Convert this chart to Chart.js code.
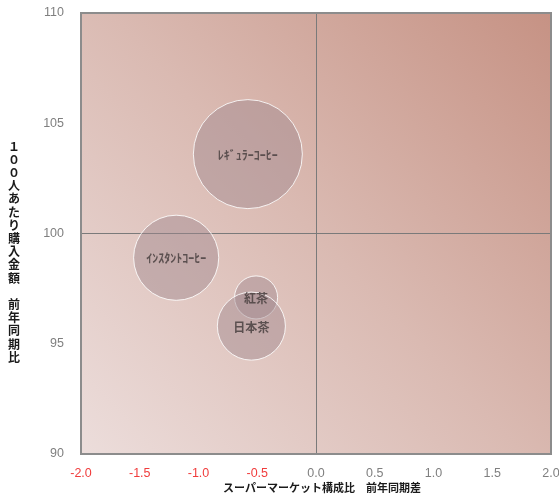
<!DOCTYPE html>
<html>
<head>
<meta charset="utf-8">
<script src="https://cdn.jsdelivr.net/npm/chart.js@4/dist/chart.umd.min.js"></script>
<style>
  html, body { margin: 0; padding: 0; background: #ffffff; }
  #wrap { width: 559px; height: 497px; position: relative; }
</style>
</head>
<body>
<div id="wrap"><canvas id="c" width="559" height="497"></canvas></div>
<script>
// Category names shown inside each bubble
const categories = ['ﾚｷﾞｭﾗｰｺｰﾋｰ', 'ｲﾝｽﾀﾝﾄｺｰﾋｰ', '紅茶', '日本茶'];
// Supermarket share, year-on-year difference (points)
const shareDiff = [-0.58, -1.19, -0.51, -0.55];
// Spend per 100 people, year-on-year ratio (%)
const spendIndex = [103.6, 98.9, 97.1, 95.8];
// Relative market size (bubble area)
const marketSize = [100, 61, 15.6, 39];

// Axis ticks
const xTicks = [-2.0, -1.5, -1.0, -0.5, 0.0, 0.5, 1.0, 1.5, 2.0];
const yTicks = [90, 95, 100, 105, 110];

const xTitle = 'スーパーマーケット構成比　前年同期差';
const yTitle = '１００人あたり購入金額　前年同期比';

const MAX_RADIUS = 54.5;
const maxSize = Math.max(...marketSize);

const points = categories.map((_, i) => ({
  x: shareDiff[i],
  y: spendIndex[i],
  r: MAX_RADIUS * Math.sqrt(marketSize[i] / maxSize)
}));

const CJK = '"Noto Sans CJK JP", "Noto Sans", sans-serif';
const TICK_FONT = '"Liberation Sans", Arial, sans-serif';

// Gradient plot area and frame
const plotBackground = {
  id: 'plotBackground',
  beforeDraw(chart) {
    const { ctx, chartArea: a } = chart;
    const g = ctx.createLinearGradient(a.left, a.bottom, a.right, a.top);
    g.addColorStop(0, 'rgb(236,221,219)');
    g.addColorStop(0.5, 'rgb(218,186,178)');
    g.addColorStop(1, 'rgb(198,146,132)');
    ctx.save();
    ctx.fillStyle = g;
    ctx.fillRect(a.left, a.top, a.right - a.left, a.bottom - a.top);
    ctx.restore();
  },
  beforeDatasetsDraw(chart) {
    const { ctx, chartArea: a } = chart;
    ctx.save();
    ctx.strokeStyle = '#8c8c8c';
    ctx.lineWidth = 2;
    ctx.strokeRect(a.left, a.top, a.right - a.left, a.bottom - a.top);
    ctx.restore();
  }
};

// Names written at the centre of each bubble
const bubbleLabels = {
  id: 'bubbleLabels',
  afterDatasetsDraw(chart) {
    const { ctx } = chart;
    const meta = chart.getDatasetMeta(0);
    ctx.save();
    ctx.font = 'bold 12px ' + CJK;
    ctx.fillStyle = 'rgba(80,70,70,0.9)';
    ctx.textAlign = 'center';
    ctx.textBaseline = 'middle';
    meta.data.forEach((el, i) => {
      ctx.fillText(categories[i], el.x, el.y + 1);
    });
    ctx.restore();
  }
};

// Axis titles: x centred under the axis, y stacked one character per line
const axisTitles = {
  id: 'axisTitles',
  afterDraw(chart) {
    const { ctx } = chart;
    ctx.save();
    ctx.fillStyle = '#1a1a1a';
    ctx.textAlign = 'center';
    ctx.textBaseline = 'middle';
    ctx.font = 'bold 11px ' + CJK;
    ctx.fillText(xTitle, 322, 488);
    ctx.font = 'bold 12px ' + CJK;
    Array.from(yTitle).forEach((ch, i) => {
      ctx.fillText(ch, 14, 146 + i * 13.2);
    });
    ctx.restore();
  }
};

new Chart(document.getElementById('c'), {
  type: 'bubble',
  data: {
    datasets: [{
      data: points,
      backgroundColor: 'rgba(160,136,142,0.46)',
      borderColor: 'rgba(255,255,255,0.85)',
      borderWidth: 1,
      hoverBorderWidth: 1
    }]
  },
  options: {
    responsive: false,
    animation: false,
    events: [],
    layout: { autoPadding: false, padding: { top: 13, right: 8, left: 0, bottom: 0 } },
    plugins: {
      legend: { display: false },
      tooltip: { enabled: false }
    },
    scales: {
      x: {
        type: 'linear',
        min: xTicks[0],
        max: xTicks[xTicks.length - 1],
        afterBuildTicks(scale) { scale.ticks = xTicks.map(v => ({ value: v })); },
        afterFit(scale) { scale.height = 43; scale.paddingLeft = 0; scale.paddingRight = 0; },
        border: { display: false },
        grid: {
          drawTicks: false,
          color: ctx => (ctx.tick && ctx.tick.value === 0 ? '#7a7a7a' : 'rgba(0,0,0,0)'),
          lineWidth: 1
        },
        ticks: {
          padding: 12,
          maxRotation: 0,
          font: { family: TICK_FONT, size: 12.5 },
          color: ctx => (ctx.tick.value < 0 ? '#f03c3c' : '#7f7f7f'),
          callback: v => Number(v).toFixed(1)
        },
        title: { display: false }
      },
      y: {
        type: 'linear',
        min: yTicks[0],
        max: yTicks[yTicks.length - 1],
        afterBuildTicks(scale) { scale.ticks = yTicks.map(v => ({ value: v })); },
        afterFit(scale) { scale.width = 81; scale.paddingTop = 0; scale.paddingBottom = 0; },
        border: { display: false },
        grid: {
          drawTicks: false,
          color: ctx => (ctx.tick && ctx.tick.value === 100 ? '#7a7a7a' : 'rgba(0,0,0,0)'),
          lineWidth: 1
        },
        ticks: {
          padding: 17,
          font: { family: TICK_FONT, size: 12.5 },
          color: '#7f7f7f',
          callback: v => String(v)
        },
        title: { display: false }
      }
    }
  },
  plugins: [plotBackground, bubbleLabels, axisTitles]
});
</script>
</body>
</html>
